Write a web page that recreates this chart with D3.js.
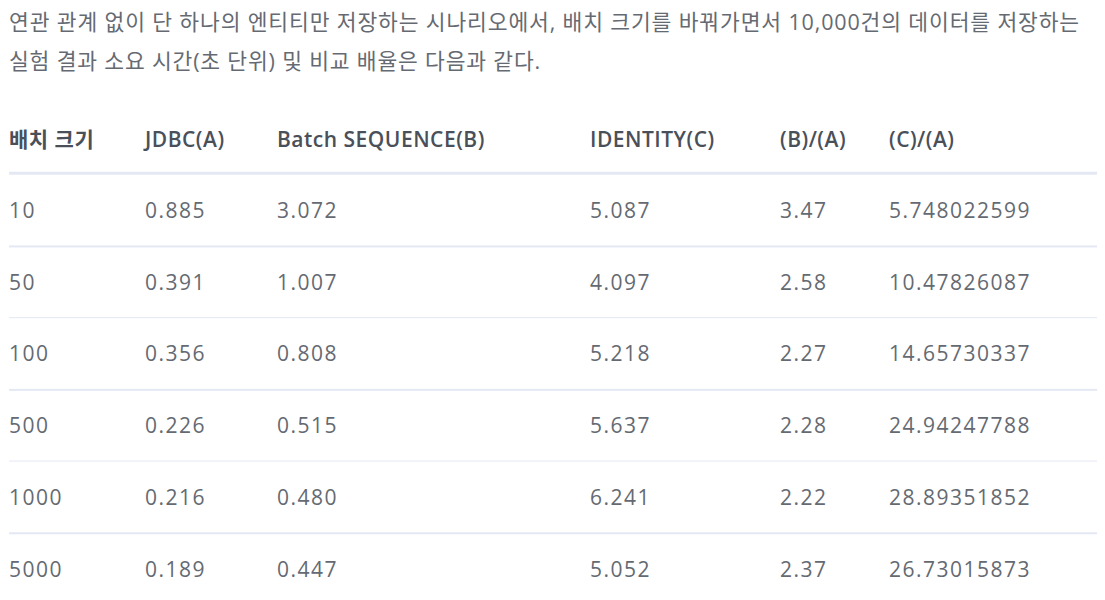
<!DOCTYPE html>
<html>
<head>
<meta charset="utf-8">
<script src="https://cdn.jsdelivr.net/npm/d3@7"></script>
<style>
  body { margin: 0; background: #fff; }
  svg text { font-family: "Open Sans", "Noto Sans CJK KR", sans-serif; }
</style>
</head>
<body>
<div id="table-container"></div>
<script>
// intro paragraph, broken where the reference wraps
const introLines = [
    "연관 관계 없이 단 하나의 엔티티만 저장하는 시나리오에서, 배치 크기를 바꿔가면서 10,000건의 데이터를 저장하는",
    "실험 결과 소요 시간(초 단위) 및 비교 배율은 다음과 같다."
];

const columns = ["배치 크기", "JDBC(A)", "Batch SEQUENCE(B)", "IDENTITY(C)", "(B)/(A)", "(C)/(A)"];
const batchSizes = ["10", "50", "100", "500", "1000", "5000"];
const jdbcA = ["0.885", "0.391", "0.356", "0.226", "0.216", "0.189"];
const batchSeqB = ["3.072", "1.007", "0.808", "0.515", "0.480", "0.447"];
const identityC = ["5.087", "4.097", "5.218", "5.637", "6.241", "5.052"];
const ratioBA = ["3.47", "2.58", "2.27", "2.28", "2.22", "2.37"];
const ratioCA = ["5.748022599", "10.47826087", "14.65730337", "24.94247788", "28.89351852", "26.73015873"];

let textColour = "#656a72";
let headColour = "#4a5059";
let lineColour = "#e3e8f3";

const width = 1105;
const height = 600;

var svg = d3.select("#table-container")
    .append("svg")
    .attr("width", width)
    .attr("height", height);

// paragraph: each line is spread so it ends where the reference's does
const introEnds = [1080, 541];
svg.append("g")
    .selectAll("text")
    .data(introLines)
    .enter().append("text")
    .attr("x", 9)
    .attr("y", (d, i) => 30 + i * 39)
    .attr("font-size", 21.5)
    .attr("fill", textColour)
    .text(d => d)
    .each(function(d, i) {
        let len = this.getComputedTextLength();
        let extra = (introEnds[i] - 9 - len) / d.length;
        d3.select(this).attr("letter-spacing", extra);
    });

// column left edges
var colX = d3.scaleOrdinal()
    .domain(columns)
    .range([9, 145, 277, 590, 780, 889]);

// rows: header + data rows
const rowKeys = ["header"].concat(batchSizes);
var rowY = d3.scaleBand()
    .domain(rowKeys)
    .range([103, 605])
    .paddingInner(0);

svg.append("g")
    .selectAll("text")
    .data(columns)
    .enter().append("text")
    .attr("x", d => colX(d))
    .attr("y", rowY("header") + rowY.bandwidth() / 2 + 1)
    .attr("dy", "0.35em")
    .attr("font-size", 21)
    .attr("font-weight", 600)
    .attr("letter-spacing", 0.5)
    .attr("fill", headColour)
    .text(d => d);

// header underline
svg.append("rect")
    .attr("x", 9)
    .attr("y", rowY("header") + rowY.bandwidth() - 3)
    .attr("width", 1088)
    .attr("height", 3)
    .attr("fill", lineColour);

// row separators
svg.append("g")
    .selectAll("rect")
    .data(batchSizes.slice(0, -1))
    .enter().append("rect")
    .attr("x", 9)
    .attr("y", d => rowY(d) + rowY.bandwidth() - 1)
    .attr("width", 1088)
    .attr("height", (d, i) => i % 2 === 0 ? 2 : 1)
    .attr("fill", lineColour);

const rows = batchSizes.map((b, i) => [b, jdbcA[i], batchSeqB[i], identityC[i], ratioBA[i], ratioCA[i]]);

var rowGroups = svg.append("g")
    .selectAll("g")
    .data(rows)
    .enter().append("g")
    .attr("transform", (d, i) => "translate(0," + (rowY(batchSizes[i]) + rowY.bandwidth() / 2) + ")");

rowGroups.selectAll("text")
    .data(d => d)
    .enter().append("text")
    .attr("x", (d, j) => colX(columns[j]))
    .attr("dy", "0.35em")
    .attr("font-size", 21)
    .attr("letter-spacing", 1.5)
    .attr("fill", textColour)
    .text(d => d);
</script>
</body>
</html>
